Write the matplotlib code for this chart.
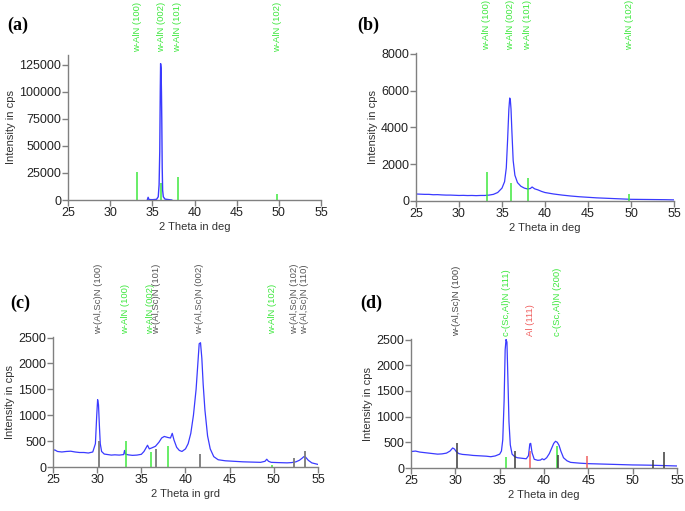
import matplotlib.pyplot as plt

plt.rcParams['font.family'] = ['Liberation Sans', 'DejaVu Sans']

# ------------------------------------------------------------
# Datos (2 theta en grados, intensidad en cps)
# ------------------------------------------------------------
# (a)
a_x = [34.4, 34.5, 34.6, 35.0, 35.5, 35.7, 35.8, 35.88, 35.94, 35.98, 36.03, 36.08, 36.12,
       36.17, 36.22, 36.3, 36.5, 37.0, 37.3]
a_y = [0, 2500, 400, 300, 600, 3000, 14000, 45000, 100000, 126000, 122000, 100000, 74000,
       30000, 9000, 3000, 800, 300, 0]

# (b)
b_x = [25, 25.5, 26, 26.5, 27, 27.5, 28, 28.5, 29, 29.5, 30, 30.5, 31, 31.5, 32, 32.5, 33,
       33.5, 34, 34.5, 35, 35.3, 35.5, 35.65, 35.8, 35.9, 35.97, 36.05, 36.15, 36.3, 36.5,
       36.8, 37.2, 37.6, 38.0, 38.3, 38.5, 38.8, 39.2, 39.6, 40, 41, 42, 43, 44, 45, 46, 47,
       48, 49, 50, 51, 52, 53, 54, 55]
b_y = [380, 370, 360, 360, 340, 345, 330, 320, 320, 310, 300, 305, 295, 300, 290, 300, 300,
       320, 360, 460, 700, 1050, 1800, 3300, 5000, 5600, 5500, 5000, 3800, 2200, 1400,
       1000, 800, 700, 650, 680, 760, 660, 600, 520, 460, 380, 320, 270, 230, 200, 170, 150,
       130, 110, 90, 85, 80, 75, 70, 60]

# (c)
c_x = [25, 25.2, 25.5, 26, 26.5, 27, 27.5, 28, 28.5, 29, 29.5, 29.8, 29.95, 30.05, 30.15,
       30.25, 30.35, 30.5, 30.8, 31.2, 31.6, 32, 32.5, 33, 33.1, 33.2, 33.5, 34, 34.5, 35,
       35.3, 35.5, 35.7, 35.9, 36.2, 36.6, 37, 37.3, 37.6, 38, 38.3, 38.5, 38.7, 39, 39.3,
       39.6, 40, 40.3, 40.6, 40.9, 41.2, 41.4, 41.55, 41.7, 41.85, 42, 42.2, 42.5, 42.8, 43.2,
       43.7, 44.5, 45.5, 46.5, 47.5, 48.5, 49, 49.2, 49.4, 49.7, 50.5, 51.5, 52, 52.5, 52.9,
       53.2, 53.4, 53.6, 53.9, 54.3, 55]
c_y = [320, 330, 300, 290, 300, 305, 290, 280, 280, 270, 290, 450, 1000, 1300, 1200,
       800, 450, 300, 250, 240, 230, 235, 230, 240, 320, 250, 235, 225, 230, 245,
       300, 360, 420, 350, 370, 400, 480, 560, 590, 570, 560, 650, 520, 380, 320,
       300, 350, 450, 650, 1000, 1500, 2000, 2380, 2400, 2100, 1600, 1100, 600, 350, 200,
       140, 120, 110, 100, 95, 90, 110, 150, 110, 90, 85, 80, 85, 100, 130,
       170, 200, 190, 130, 80, 50]

c_sticks_gris_x = [30.15, 36.7, 41.6, 52.3, 53.5]
c_sticks_gris_y = [500, 340, 250, 170, 310]
c_sticks_verde_x = [33.25, 36.04, 38.0, 49.85]
c_sticks_verde_y = [500, 290, 400, 40]
c_etiquetas_x = [30.15, 33.25, 36.04, 36.7, 41.6, 49.85, 52.3, 53.5]
c_etiquetas = ["w-(Al,Sc)N (100)", "w-AlN (100)", "w-AlN (002)", "w-(Al,Sc)N (101)",
               "w-(Al,Sc)N (002)", "w-AlN (102)", "w-(Al,Sc)N (102)", "w-(Al,Sc)N (110)"]
c_etiquetas_tipo = ["gris", "verde", "verde", "gris", "gris", "verde", "gris", "gris"]

# (d)
d_x = [25, 25.5, 26, 26.5, 27, 27.5, 28, 28.5, 29, 29.4, 29.7, 29.9, 30.1, 30.4, 30.8, 31.5,
       32, 32.5, 33, 33.5, 34, 34.5, 35, 35.2, 35.35, 35.5, 35.62, 35.72, 35.82, 35.92,
       36.05, 36.2, 36.4, 36.7, 37, 37.5, 38, 38.25, 38.4, 38.5, 38.65, 38.9, 39.3, 39.6,
       39.8, 40, 40.3, 40.6, 40.9, 41.1, 41.3, 41.5, 41.7, 41.9, 42.2, 42.6, 43, 44, 45,
       46, 47, 48, 49, 50, 51, 52, 53, 54, 55]
d_y = [320, 330, 310, 300, 290, 280, 270, 275, 290, 330, 390, 370, 320, 280, 265, 255,
       245, 240, 235, 230, 220, 235, 270, 330, 550, 1300, 2300, 2500, 2450, 1800,
       900, 450, 270, 220, 200, 190, 180, 240, 470, 480, 300, 170, 150, 155,
       180, 160, 200, 280, 400, 480, 520, 500, 440, 330, 200, 140, 110, 95, 85,
       80, 75, 70, 65, 60, 58, 55, 50, 45, 40]

d_sticks_negro_x = [30.15, 36.7, 41.6, 52.3, 53.5]
d_sticks_negro_y = [480, 330, 250, 150, 310]
d_sticks_verde_x = [35.75, 41.5]
d_sticks_verde_y = [210, 420]
d_sticks_rojo_x = [38.45, 44.8]
d_sticks_rojo_y = [330, 230]
d_etiquetas_x = [30.15, 35.75, 38.45, 41.5]
d_etiquetas = ["w-(Al,Sc)N (100)", "c-(Sc,Al)N (111)", "Al (111)", "c-(Sc,Al)N (200)"]
d_etiquetas_tipo = ["negro", "verde", "rojo", "verde"]

# (a) y (b): patron w-AlN
aln_x = [33.2, 36.04, 38.0, 49.8]
aln_etiquetas = ["w-AlN (100)", "w-AlN (002)", "w-AlN (101)", "w-AlN (102)"]
a_sticks_y = [26000, 16000, 21000, 6000]
b_sticks_y = [1600, 1000, 1250, 400]

colores = {"verde": "#3ee83e", "gris": "#7a7a7a", "negro": "#3a3a3a", "rojo": "#f06060"}
colores_texto = {"verde": "#3ee83e", "gris": "#555555", "negro": "#444444", "rojo": "#f06060"}
azul = "#3a3aff"

fig = plt.figure(figsize=(6.85, 5.11), dpi=100)

ax_a = fig.add_axes([0.0993, 0.6086, 0.3693, 0.2838])
ax_b = fig.add_axes([0.6073, 0.6067, 0.3766, 0.2896])
ax_c = fig.add_axes([0.0774, 0.0861, 0.3868, 0.2544])
ax_d = fig.add_axes([0.6000, 0.0841, 0.3883, 0.2525])


def estilo(ax, ymax, yticks, xlabel):
    ax.set_xlim(25, 55)
    ax.set_ylim(0, ymax)
    ax.set_xticks([25, 30, 35, 40, 45, 50, 55])
    ax.set_yticks(yticks)
    for s in ["top", "right"]:
        ax.spines[s].set_visible(False)
    for s in ["left", "bottom"]:
        ax.spines[s].set_color("#808080")
        ax.spines[s].set_linewidth(1.0)
    ax.tick_params(direction="out", length=4, width=1, color="#808080",
                   labelsize=9, labelcolor="#222222", pad=1)
    ax.set_xlabel(xlabel, fontsize=8, color="#333333", labelpad=2)
    ax.set_ylabel("Intensity in cps", fontsize=8, color="#333333", labelpad=2)


def etiquetas(ax, xs, textos, colores_txt):
    for x, t, c in zip(xs, textos, colores_txt):
        ax.annotate(t, xy=(x, 1.0), xycoords=("data", "axes fraction"),
                    xytext=(0, 2), textcoords="offset points",
                    rotation=90, ha="center", va="bottom", fontsize=6.8,
                    color=c, annotation_clip=False)


# (a)
ax_a.vlines(aln_x, 0, a_sticks_y, color=colores["verde"], linewidth=1.1, zorder=1)
ax_a.plot(a_x, a_y, color=azul, linewidth=1.0, zorder=2)
estilo(ax_a, 134000, [0, 25000, 50000, 75000, 100000, 125000], "2 Theta in deg")
etiquetas(ax_a, aln_x, aln_etiquetas, [colores_texto["verde"]] * 4)

# (b)
ax_b.plot(b_x, b_y, color=azul, linewidth=0.9, zorder=1)
ax_b.vlines(aln_x, 0, b_sticks_y, color=colores["verde"], linewidth=1.1, zorder=2)
estilo(ax_b, 8050, [0, 2000, 4000, 6000, 8000], "2 Theta in deg")
etiquetas(ax_b, aln_x, aln_etiquetas, [colores_texto["verde"]] * 4)

# (c)
ax_c.plot(c_x, c_y, color=azul, linewidth=0.9, zorder=1)
ax_c.vlines(c_sticks_gris_x, 0, c_sticks_gris_y, color=colores["gris"], linewidth=1.3, zorder=2)
ax_c.vlines(c_sticks_verde_x, 0, c_sticks_verde_y, color=colores["verde"], linewidth=1.1, zorder=2)
estilo(ax_c, 2510, [0, 500, 1000, 1500, 2000, 2500], "2 Theta in grd")
etiquetas(ax_c, c_etiquetas_x, c_etiquetas, [colores_texto[k] for k in c_etiquetas_tipo])

# (d)
ax_d.plot(d_x, d_y, color=azul, linewidth=0.9, zorder=1)
ax_d.vlines(d_sticks_verde_x, 0, d_sticks_verde_y, color=colores["verde"], linewidth=1.1, zorder=2)
ax_d.vlines(d_sticks_negro_x, 0, d_sticks_negro_y, color=colores["negro"], linewidth=1.1, zorder=3)
ax_d.vlines(d_sticks_rojo_x, 0, d_sticks_rojo_y, color=colores["rojo"], linewidth=1.1, zorder=2)
estilo(ax_d, 2510, [0, 500, 1000, 1500, 2000, 2500], "2 Theta in deg")
etiquetas(ax_d, d_etiquetas_x, d_etiquetas, [colores_texto[k] for k in d_etiquetas_tipo])

# letras de los paneles
for (px, py, letra) in [(7, 25, "(a)"), (357, 25, "(b)"), (10, 303, "(c)"), (360, 303, "(d)")]:
    fig.text(px / 685, 1 - py / 511, letra, fontsize=13, fontweight="bold",
             family="Liberation Serif", va="center", ha="left")

fig.savefig("out.png", dpi=100)
